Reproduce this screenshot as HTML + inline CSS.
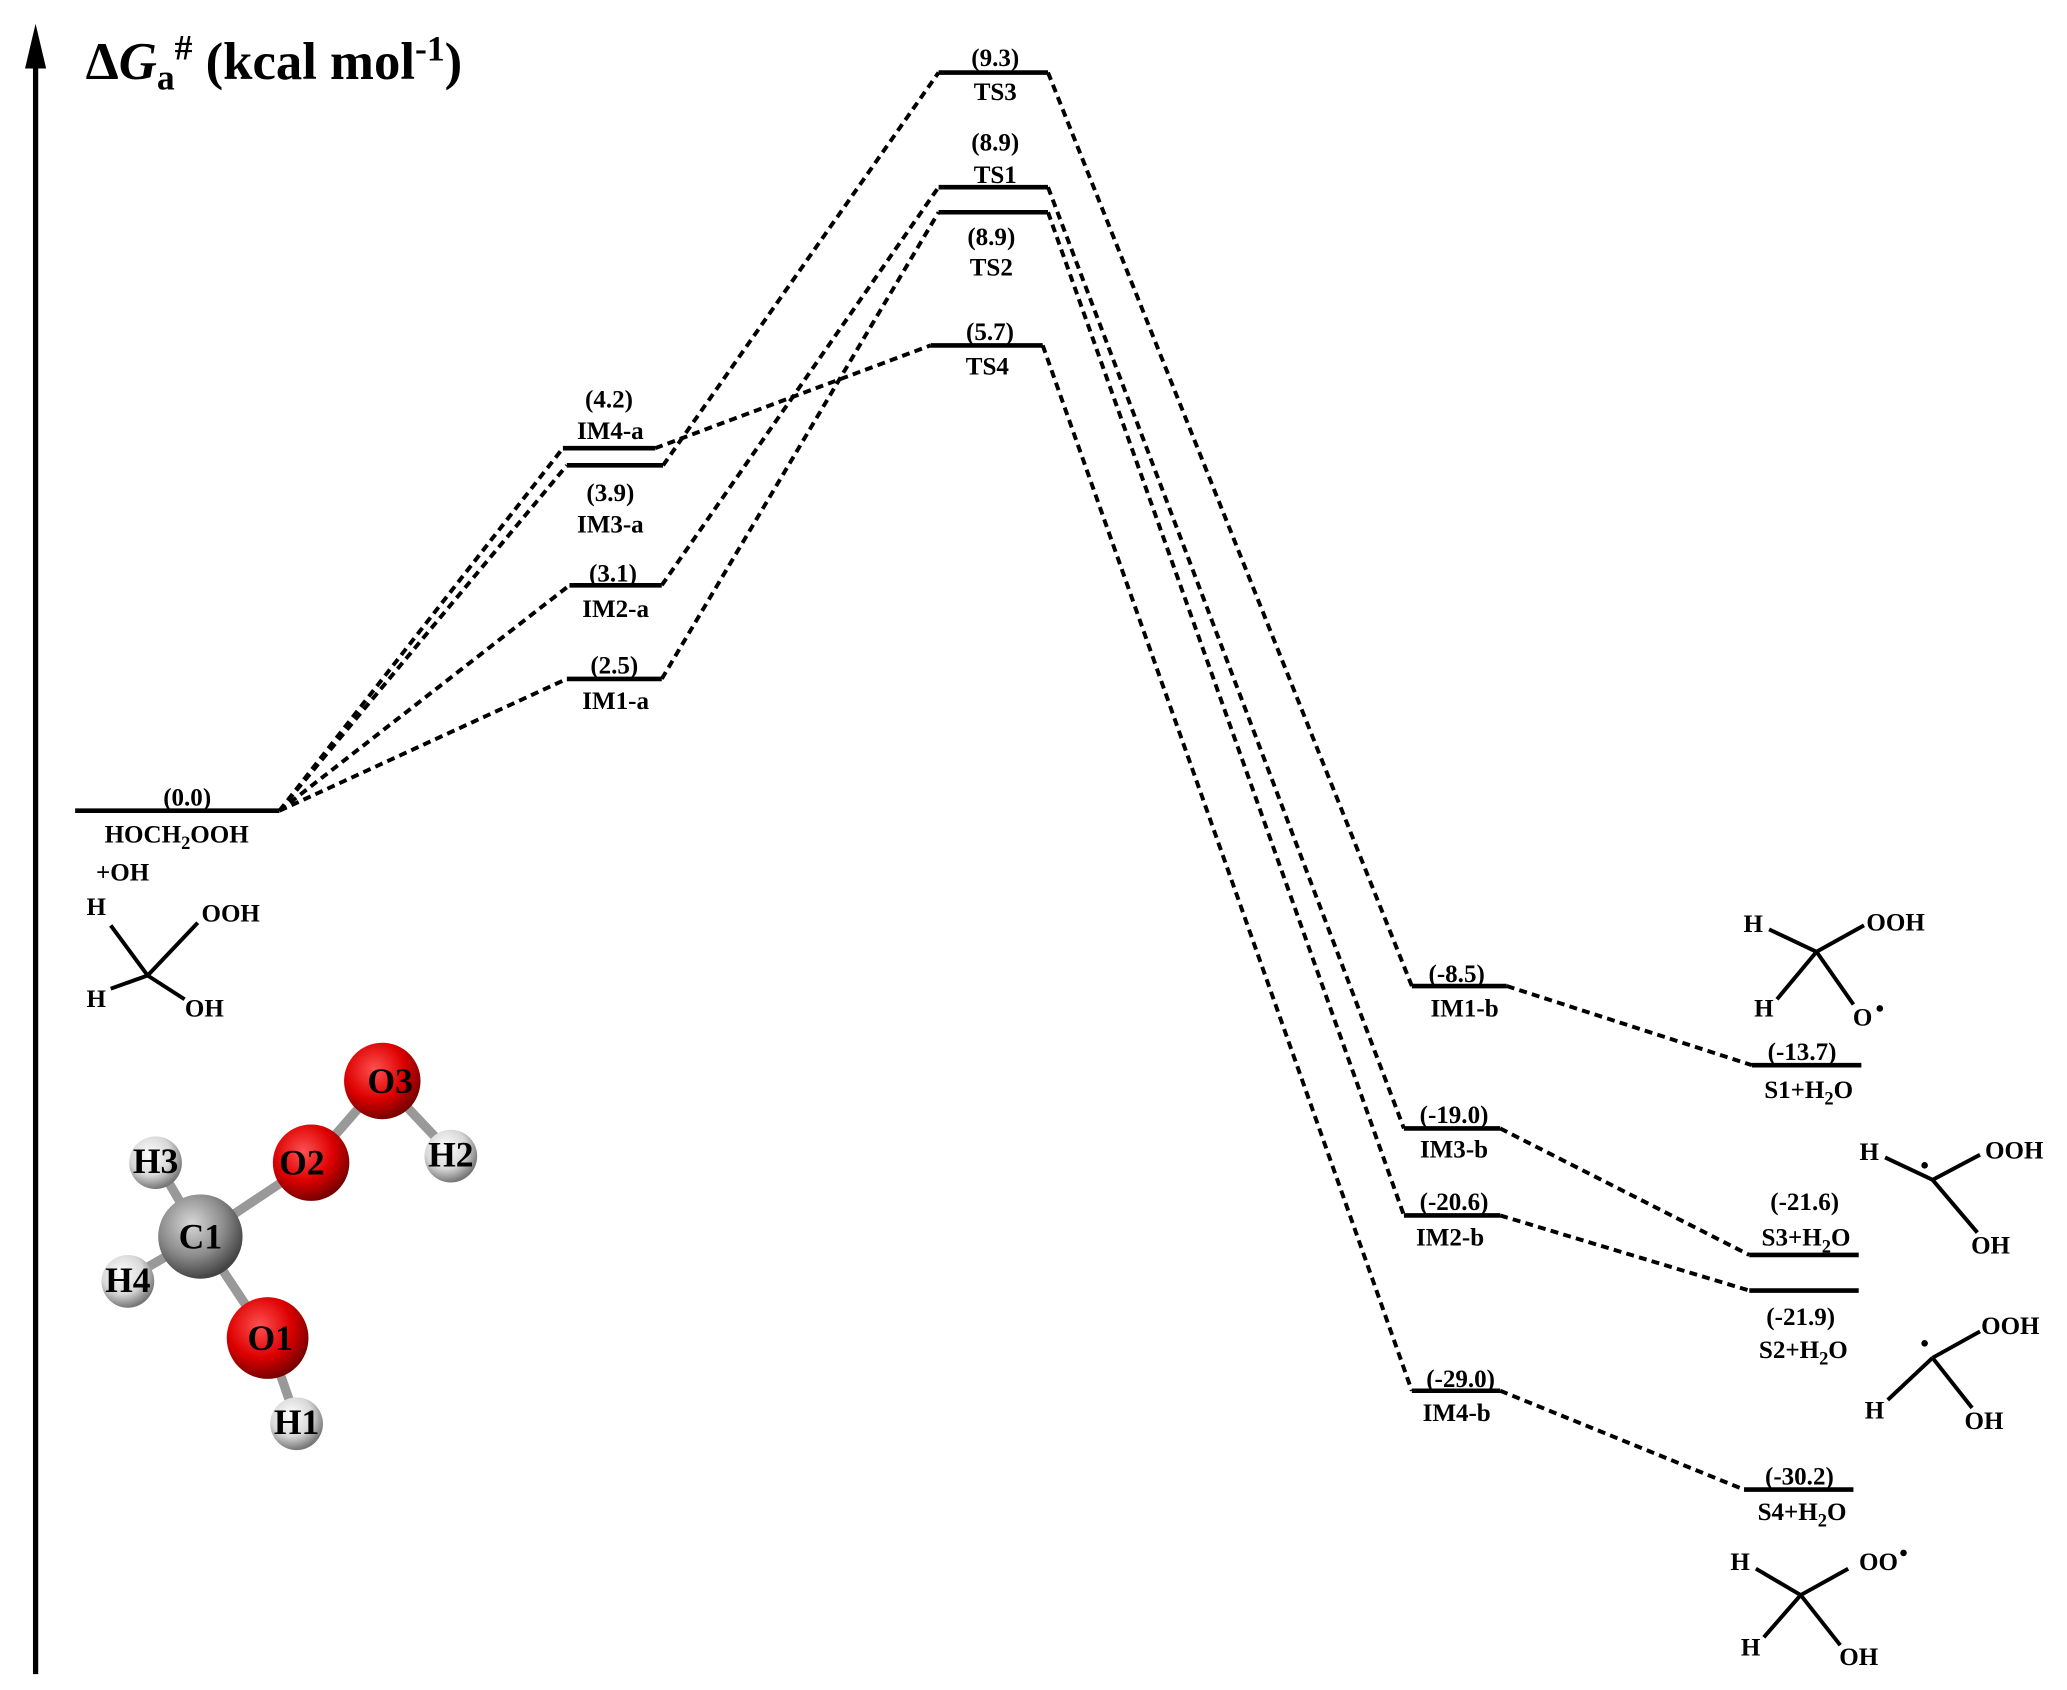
<!DOCTYPE html>
<html><head><meta charset="utf-8"><style>
html,body{margin:0;padding:0;background:#fff;}
svg{display:block;}
text{font-family:"Liberation Serif",serif;font-weight:bold;font-size:19px;fill:#000;text-anchor:middle;}
text.m{font-size:27px;}
text.t{font-size:40px;text-anchor:start;}
.lv{stroke:#000;stroke-width:3.5;}
.d{stroke:#000;stroke-width:3;stroke-dasharray:6,4;fill:none;}
.b{stroke:#000;stroke-width:3;}
</style></head><body>
<svg width="2067" height="1690" viewBox="0 0 1568 1282" xmlns="http://www.w3.org/2000/svg">
<defs>
<radialGradient id="red" cx="40%" cy="35%" r="65%"><stop offset="0" stop-color="#ff5050"/><stop offset="0.6" stop-color="#dd0000"/><stop offset="1" stop-color="#7a0000"/></radialGradient>
<radialGradient id="gray" cx="40%" cy="35%" r="65%"><stop offset="0" stop-color="#d8d8d8"/><stop offset="0.6" stop-color="#8a8a8a"/><stop offset="1" stop-color="#444"/></radialGradient>
<radialGradient id="wh" cx="40%" cy="35%" r="65%"><stop offset="0" stop-color="#fff"/><stop offset="0.6" stop-color="#d8d8d8"/><stop offset="1" stop-color="#777"/></radialGradient>
</defs>
<line x1="27" y1="1270" x2="27" y2="45" stroke="#000" stroke-width="4"/>
<polygon points="27,18 19,52 35,52" fill="#000"/>
<text class="t" x="65" y="60">Δ<tspan font-style="italic">G</tspan><tspan font-size="27" dy="8">a</tspan><tspan font-size="27" dy="-23">#</tspan><tspan dy="15"> (kcal mol</tspan><tspan font-size="27" dy="-14">-1</tspan><tspan dy="14">)</tspan></text>

<g class="lv">
<line x1="57" y1="615" x2="212" y2="615"/>
<line x1="427" y1="340" x2="497" y2="340"/>
<line x1="430" y1="353" x2="503" y2="353"/>
<line x1="432" y1="444" x2="502" y2="444"/>
<line x1="430" y1="515" x2="502" y2="515"/>
<line x1="712" y1="55" x2="795" y2="55"/>
<line x1="712" y1="142" x2="795" y2="142"/>
<line x1="712" y1="161" x2="795" y2="161"/>
<line x1="706" y1="262" x2="791" y2="262"/>
<line x1="1071" y1="748" x2="1143" y2="748"/>
<line x1="1065" y1="856" x2="1138" y2="856"/>
<line x1="1065" y1="922" x2="1138" y2="922"/>
<line x1="1071" y1="1055" x2="1138" y2="1055"/>
<line x1="1329" y1="808" x2="1412" y2="808"/>
<line x1="1327" y1="952" x2="1410" y2="952"/>
<line x1="1327" y1="979" x2="1410" y2="979"/>
<line x1="1323" y1="1130" x2="1406" y2="1130"/>
</g>
<g class="d">
<line x1="212" y1="615" x2="427" y2="340"/>
<line x1="212" y1="615" x2="430" y2="353"/>
<line x1="212" y1="615" x2="432" y2="444"/>
<line x1="212" y1="615" x2="430" y2="515"/>
<line x1="497" y1="340" x2="706" y2="262"/>
<line x1="503" y1="353" x2="712" y2="55"/>
<line x1="502" y1="444" x2="712" y2="142"/>
<line x1="502" y1="515" x2="712" y2="161"/>
<line x1="795" y1="55" x2="1071" y2="748"/>
<line x1="795" y1="142" x2="1065" y2="856"/>
<line x1="795" y1="161" x2="1065" y2="922"/>
<line x1="791" y1="262" x2="1071" y2="1055"/>
<line x1="1143" y1="748" x2="1329" y2="808"/>
<line x1="1138" y1="856" x2="1327" y2="952"/>
<line x1="1138" y1="922" x2="1327" y2="979"/>
<line x1="1138" y1="1055" x2="1323" y2="1130"/>
</g>
<text x="142" y="611">(0.0)</text>
<text x="134" y="639">HOCH<tspan font-size="14" dy="5">2</tspan><tspan dy="-5">OOH</tspan></text>
<text x="93" y="668">+OH</text>
<text x="462" y="309">(4.2)</text><text x="463" y="333">IM4-a</text>
<text x="463" y="380">(3.9)</text><text x="463" y="404">IM3-a</text>
<text x="465" y="441">(3.1)</text><text x="467" y="468">IM2-a</text>
<text x="466" y="511">(2.5)</text><text x="467" y="538">IM1-a</text>
<text x="755" y="50">(9.3)</text><text x="755" y="76">TS3</text>
<text x="755" y="114">(8.9)</text><text x="755" y="139">TS1</text>
<text x="752" y="186">(8.9)</text><text x="752" y="209">TS2</text>
<text x="751" y="258">(5.7)</text><text x="749" y="284">TS4</text>
<text x="1105" y="745">(-8.5)</text><text x="1111" y="771">IM1-b</text>
<text x="1103" y="852">(-19.0)</text><text x="1103" y="878">IM3-b</text>
<text x="1103" y="918">(-20.6)</text><text x="1100" y="945">IM2-b</text>
<text x="1108" y="1052">(-29.0)</text><text x="1105" y="1078">IM4-b</text>
<text x="1367" y="804">(-13.7)</text><text x="1372" y="833">S1+H<tspan font-size="14" dy="5">2</tspan><tspan dy="-5">O</tspan></text>
<text x="1369" y="918">(-21.6)</text><text x="1370" y="945">S3+H<tspan font-size="14" dy="5">2</tspan><tspan dy="-5">O</tspan></text>
<text x="1366" y="1005">(-21.9)</text><text x="1368" y="1030">S2+H<tspan font-size="14" dy="5">2</tspan><tspan dy="-5">O</tspan></text>
<text x="1365" y="1126">(-30.2)</text><text x="1367" y="1153">S4+H<tspan font-size="14" dy="5">2</tspan><tspan dy="-5">O</tspan></text>

<g class="b">
<line x1="112" y1="740" x2="84" y2="702"/><line x1="112" y1="740" x2="84" y2="750"/><line x1="112" y1="740" x2="150" y2="700"/><line x1="112" y1="740" x2="140" y2="758"/>
<line x1="1378" y1="722" x2="1342" y2="705"/><line x1="1378" y1="722" x2="1348" y2="758"/><line x1="1378" y1="722" x2="1414" y2="702"/><line x1="1378" y1="722" x2="1406" y2="762"/>
<line x1="1466" y1="895" x2="1430" y2="878"/><line x1="1466" y1="895" x2="1502" y2="876"/><line x1="1466" y1="895" x2="1500" y2="935"/>
<line x1="1466" y1="1030" x2="1502" y2="1010"/><line x1="1466" y1="1030" x2="1432" y2="1062"/><line x1="1466" y1="1030" x2="1496" y2="1068"/>
<line x1="1366" y1="1210" x2="1332" y2="1190"/><line x1="1366" y1="1210" x2="1338" y2="1242"/><line x1="1366" y1="1210" x2="1402" y2="1190"/><line x1="1366" y1="1210" x2="1396" y2="1248"/>
</g>
<text x="73" y="694">H</text><text x="175" y="699">OOH</text><text x="73" y="764">H</text><text x="155" y="771">OH</text>
<text x="1330" y="707">H</text><text x="1438" y="706">OOH</text><text x="1338" y="771">H</text><text x="1413" y="778">O</text><circle cx="1426" cy="765" r="2.5" fill="#000"/>
<text x="1418" y="880">H</text><text x="1528" y="879">OOH</text><text x="1510" y="951">OH</text><circle cx="1460" cy="884" r="2.5" fill="#000"/>
<text x="1525" y="1012">OOH</text><text x="1422" y="1076">H</text><text x="1505" y="1084">OH</text><circle cx="1460" cy="1019" r="2.5" fill="#000"/>
<text x="1320" y="1191">H</text><text x="1425" y="1191">OO</text><circle cx="1444" cy="1178" r="2.5" fill="#000"/><text x="1328" y="1256">H</text><text x="1410" y="1263">OH</text>

<g stroke="#999" stroke-width="7">
<line x1="152" y1="938" x2="118" y2="880"/><line x1="152" y1="938" x2="97" y2="970"/>
<line x1="152" y1="938" x2="236" y2="882"/><line x1="152" y1="938" x2="203" y2="1015"/>
<line x1="236" y1="882" x2="290" y2="820"/><line x1="290" y1="820" x2="342" y2="875"/>
<line x1="203" y1="1015" x2="225" y2="1078"/>
</g>
<circle cx="118" cy="882" r="20" fill="url(#wh)"/>
<circle cx="97" cy="972" r="20" fill="url(#wh)"/>
<circle cx="342" cy="877" r="20" fill="url(#wh)"/>
<circle cx="225" cy="1080" r="20" fill="url(#wh)"/>
<circle cx="152" cy="938" r="32" fill="url(#gray)"/>
<circle cx="236" cy="882" r="29" fill="url(#red)"/>
<circle cx="290" cy="820" r="29" fill="url(#red)"/>
<circle cx="203" cy="1015" r="31" fill="url(#red)"/>
<text class="m" x="118" y="890">H3</text><text class="m" x="97" y="980">H4</text><text class="m" x="342" y="885">H2</text><text class="m" x="225" y="1088">H1</text>
<text class="m" x="152" y="947">C1</text><text class="m" x="229" y="891">O2</text><text class="m" x="296" y="829">O3</text><text class="m" x="205" y="1024">O1</text>
</svg>
</body></html>
